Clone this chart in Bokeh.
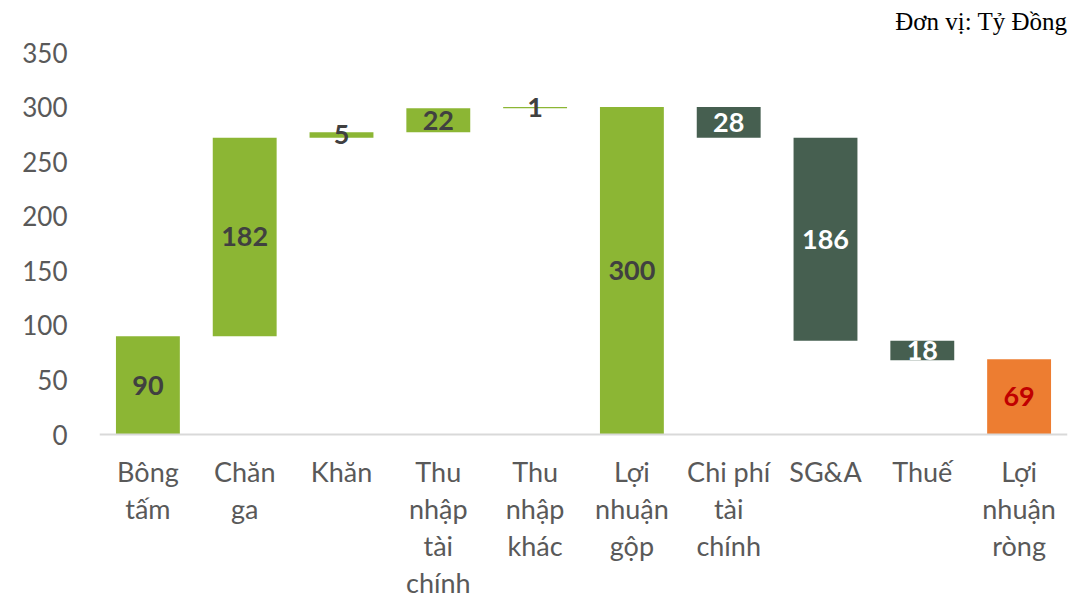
from bokeh.plotting import figure
from bokeh.models import FactorRange, Range1d, FixedTicker, ColumnDataSource, Span, Label
from bokeh.core.properties import value
from bokeh.embed import file_html
from bokeh.resources import INLINE

categories = ["Bông\ntấm", "Chăn\nga", "Khăn", "Thu\nnhập\ntài\nchính", "Thu\nnhập\nkhác",
              "Lợi\nnhuận\ngộp", "Chi phí\ntài\nchính", "SG&A", "Thuế", "Lợi\nnhuận\nròng"]
values = [90, 182, 5, 22, 1, 300, 28, 186, 18, 69]
kinds = ["up", "up", "up", "up", "up", "total", "down", "down", "down", "net"]
y_ticks = [0, 50, 100, 150, 200, 250, 300, 350]
unit_note = "Đơn vị: Tỷ Đồng"

GREEN = "#8CB634"
DARK = "#465F50"
ORANGE = "#ED7D31"
fill_map = {"up": GREEN, "total": GREEN, "down": DARK, "net": ORANGE}
text_map = {"up": "#404040", "total": "#404040", "down": "#FFFFFF", "net": "#C00000"}

bottoms, tops = [], []
running = 0
for v, k in zip(values, kinds):
    if k == "up":
        b, t = running, running + v
        running = t
    elif k == "down":
        b, t = running - v, running
        running = b
    else:
        b, t = 0, v
        running = v
    bottoms.append(b)
    tops.append(t)

W, H = 1074, 603
TOP, ZERO_Y = 52, 434          # pixel rows of the 350 tick and the zero line
Y_MAX = y_ticks[-1]
px_per_unit = (ZERO_Y - TOP) / Y_MAX
y_min = -(H - ZERO_Y) / px_per_unit
y_top = Y_MAX + TOP / px_per_unit

src = ColumnDataSource(dict(
    x=categories, bottom=bottoms, top=tops,
    mid=[(b + t) / 2 for b, t in zip(bottoms, tops)],
    label=[str(v) for v in values],
    fill=[fill_map[k] for k in kinds],
    tcolor=[text_map[k] for k in kinds],
    base=[0] * len(categories),
))

p = figure(width=W, height=H, x_range=FactorRange(*categories), y_range=Range1d(y_min, y_top),
           output_backend="svg", toolbar_location=None,
           min_border_left=99, min_border_right=7, min_border_top=0, min_border_bottom=0)
p.outline_line_color = None
p.xgrid.grid_line_color = None
p.ygrid.grid_line_color = None
p.xaxis.visible = False

p.vbar(x="x", bottom="bottom", top="top", width=0.66, fill_color="fill", line_color=None, source=src)
p.add_layout(Span(location=0, dimension="width", line_color="#D9D9D9", line_width=2))
p.text(x="x", y="mid", text="label", text_color="tcolor", source=src,
       text_align="center", text_baseline="middle",
       text_font=value("Lato"), text_font_style="bold", text_font_size="27px")
# category labels under the zero line
p.text(x="x", y="base", text="x", source=src, y_offset=20,
       text_align="center", text_baseline="top", text_color="#595959",
       text_font=value("Lato"), text_font_size="27px", text_line_height=1.13)

# unit note, right-aligned at the right end of the category range
note = Label(x=float(len(categories)), y=Y_MAX + 31 / px_per_unit, text=unit_note,
             text_align="right", text_baseline="alphabetic", text_font="Liberation Serif",
             text_font_size="25px", text_color="#000000")
p.add_layout(note)

ya = p.yaxis[0]
ya.ticker = FixedTicker(ticks=y_ticks)
ya.axis_line_color = None
ya.major_tick_line_color = None
ya.minor_tick_line_color = None
ya.major_tick_out = 0
ya.major_tick_in = 0
ya.major_label_standoff = 32
ya.major_label_text_font = "Lato"
ya.major_label_text_font_size = "26px"
ya.major_label_text_color = "#595959"

open("out.html", "w").write(file_html(p, INLINE))
